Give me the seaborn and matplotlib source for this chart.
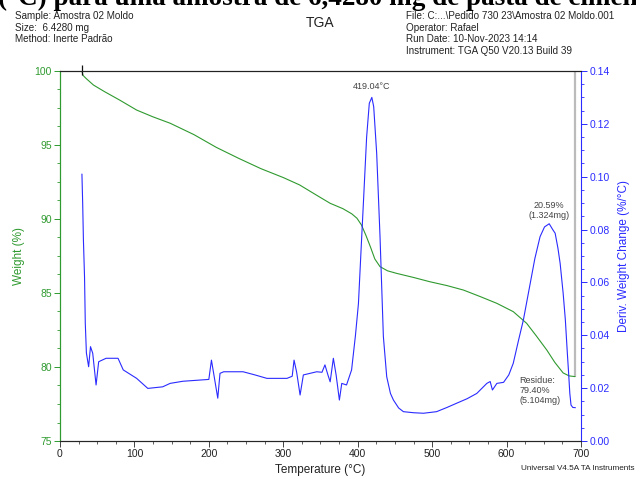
import matplotlib

matplotlib.use("Agg")
import matplotlib.pyplot as plt  # noqa: E402
import pandas as pd
import seaborn as sns
from matplotlib.ticker import MultipleLocator

# TGA weight curve
temp_w = [29.5, 31, 35, 45, 60, 80, 103, 125, 148, 180, 210, 240, 270, 300, 322,
          345, 363, 380, 392, 399, 405, 411, 417, 423, 430, 440, 452, 475, 497,
          520, 542, 565, 587, 609, 627, 640, 654, 665, 676, 684, 692]
weight = [100.0, 99.7, 99.5, 99.05, 98.6, 98.04, 97.36, 96.9, 96.47, 95.7, 94.84,
          94.1, 93.4, 92.8, 92.3, 91.6, 91.06, 90.7, 90.35, 90.05, 89.6, 88.9,
          88.13, 87.3, 86.78, 86.5, 86.33, 86.05, 85.76, 85.5, 85.2, 84.75, 84.3,
          83.74, 82.95, 82.1, 81.15, 80.3, 79.6, 79.4, 79.35]

# derivative curve
temp_d = [29.5, 30.5, 31.5, 33, 34, 35.5, 38.5, 41, 44, 48.5, 52, 62, 78, 85, 103,
          118, 138, 148, 165, 185, 200, 203.5, 208, 212, 215, 220, 246, 262, 278,
          305, 312, 314.5, 318, 322.6, 327, 345, 352, 356, 360, 363, 367.3, 371,
          375.4, 378.6, 385, 391.8, 397, 401, 405, 408, 412, 415.6, 419, 421.5,
          425.5, 430, 434.5, 439, 444, 448, 455, 461.4, 475, 488.3, 506, 520, 533,
          547, 560, 573.5, 578, 581, 587, 596, 603, 609, 616, 622.6, 631.7, 638,
          645, 651, 657.3, 662, 665.3, 669, 672, 676, 679, 681.5, 683.4, 685,
          686.6, 689, 692.5]
deriv = [0.101, 0.090, 0.076, 0.062, 0.0446, 0.0333, 0.0281, 0.0357, 0.0332, 0.0212,
         0.030, 0.0313, 0.0313, 0.0269, 0.0237, 0.0199, 0.0205, 0.0218, 0.0226,
         0.0230, 0.0233, 0.0306, 0.0230, 0.0162, 0.0256, 0.0262, 0.0262, 0.0250,
         0.0237, 0.0237, 0.0245, 0.0306, 0.0260, 0.0174, 0.025, 0.0262, 0.026,
         0.0288, 0.025, 0.0224, 0.0313, 0.025, 0.0155, 0.0218, 0.0212, 0.0269,
         0.040, 0.052, 0.075, 0.092, 0.115, 0.1278, 0.1300, 0.1265, 0.1089, 0.0773,
         0.0395, 0.0243, 0.018, 0.0155, 0.0125, 0.0111, 0.0107, 0.0105, 0.0111,
         0.0127, 0.0143, 0.016, 0.018, 0.0218, 0.0225, 0.0193, 0.0218, 0.0222,
         0.025, 0.0294, 0.038, 0.0458, 0.0595, 0.069, 0.0773, 0.081, 0.0822, 0.080,
         0.0786, 0.073, 0.0672, 0.056, 0.0458, 0.034, 0.0256, 0.018, 0.0136,
         0.0127, 0.0126]

header_left = ["Sample: Amostra 02 Moldo", "Size:  6.4280 mg", "Method: Inerte Padrão"]
header_right = ["File: C:...\\Pedido 730 23\\Amostra 02 Moldo.001", "Operator: Rafael",
                "Run Date: 10-Nov-2023 14:14", "Instrument: TGA Q50 V20.13 Build 39"]

GREEN = "#2f9a2f"
BLUE = "#2b2bff"
GREY = "#444444"

sns.set_style("ticks")
plt.rcParams["font.family"] = ["Liberation Sans", "DejaVu Sans"]

fig = plt.figure(figsize=(6.36, 4.78), dpi=100)
ax = fig.add_axes([0.0943, 0.0774, 0.8192, 0.7741])
ax2 = ax.twinx()

df_w = pd.DataFrame({"temp": temp_w, "weight": weight})
df_d = pd.DataFrame({"temp": temp_d, "deriv": deriv})
sns.lineplot(data=df_w, x="temp", y="weight", ax=ax, color=GREEN, lw=0.8,
             sort=False, estimator=None)
sns.lineplot(data=df_d, x="temp", y="deriv", ax=ax2, color=BLUE, lw=0.8,
             sort=False, estimator=None)

ax.set_xlim(0, 700)
ax.set_ylim(75, 100)
ax2.set_ylim(0, 0.14)

ax.xaxis.set_major_locator(MultipleLocator(100))
ax.xaxis.set_minor_locator(MultipleLocator(25))
ax.yaxis.set_major_locator(MultipleLocator(5))
ax.yaxis.set_minor_locator(MultipleLocator(1.25))
ax2.yaxis.set_major_locator(MultipleLocator(0.02))
ax2.yaxis.set_minor_locator(MultipleLocator(0.005))
ax2.yaxis.set_major_formatter(plt.FormatStrFormatter("%.2f"))

for a in (ax, ax2):
    a.tick_params(which="major", length=4, width=0.7, labelsize=7.5, pad=2)
    a.tick_params(which="minor", length=2, width=0.6)
ax.tick_params(axis="y", which="both", colors=GREEN)
ax.tick_params(axis="x", which="both", colors=GREY, labelcolor="#222222")
ax2.tick_params(axis="y", which="both", colors=BLUE)

ax.spines["left"].set_color(GREEN)
ax.spines["bottom"].set_color(GREY)
ax.spines["top"].set_color("#222222")
ax2.spines["right"].set_color(BLUE)
ax2.spines["left"].set_color(GREEN)
ax2.spines["top"].set_color("#222222")
for a in (ax, ax2):
    for s in a.spines.values():
        s.set_linewidth(0.8)
    a.spines["top"].set_visible(True)
    a.spines["right"].set_visible(True)
ax.spines["right"].set_visible(False)

ax.set_xlabel("Temperature (°C)", fontsize=8.5, color="#222222", labelpad=3)
ax.set_ylabel("Weight (%)", fontsize=8.5, color=GREEN, labelpad=7)
ax2.set_ylabel("Deriv. Weight Change (%/°C)", fontsize=8.5, color=BLUE, labelpad=6)

# start marker and residue line
ax.vlines(temp_w[0], 99.7, 100.4, color="#111111", lw=0.9, clip_on=False)
ax.vlines(temp_w[-1], weight[-1], 100, color="#bbbbbb", lw=1.6, zorder=1)

# annotations
ipk = deriv.index(max(deriv))
ax2.annotate("419.04°C", (temp_d[ipk], deriv[ipk]), xytext=(0, 6),
             textcoords="offset points", ha="center", fontsize=6.5, color=GREY)
ax2.text(657, 0.0835, "20.59%\n(1.324mg)", ha="center", va="bottom",
         fontsize=6.5, color=GREY, linespacing=1.15)
ax2.text(617, 0.0245, "Residue:\n79.40%\n(5.104mg)", ha="left", va="top",
         fontsize=6.5, color=GREY, linespacing=1.15)

# header block
for i, line in enumerate(header_left):
    fig.text(15 / 636, 1 - (16 + 11.7 * i) / 478, line, fontsize=7.1,
             color="#222222", va="center")
for i, line in enumerate(header_right):
    fig.text(406 / 636, 1 - (16 + 11.7 * i) / 478, line, fontsize=7.1,
             color="#222222", va="center")
fig.text(320 / 636, 1 - 23 / 478, "TGA", fontsize=10, color="#222222",
         ha="center", va="center")
fig.text(0.998, 1 - 468 / 478, "Universal V4.5A TA Instruments", fontsize=5.9,
         color="#222222", ha="right", va="center")

# caption cut off at the top of the image
fig.text(-0.003, 1 - 5 / 478, "(°C) para uma amostra de 6,4280 mg de pasta de cimento",
         fontsize=19.5, fontweight="bold", family=["Liberation Serif", "DejaVu Serif"],
         va="baseline", ha="left", color="black")

fig.savefig("out.png", dpi=100)
plt.close(fig)
